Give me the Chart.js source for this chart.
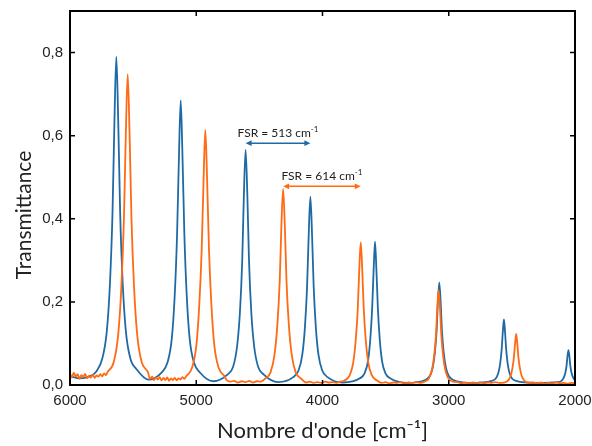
<!DOCTYPE html>
<html>
<head>
<meta charset="utf-8">
<script src="https://cdn.jsdelivr.net/npm/chart.js@4.4.0/dist/chart.umd.min.js"></script>
<style>
  body { margin: 0; background: #fff; }
  #wrap { width: 592px; height: 446px; }
</style>
</head>
<body>
<div id="wrap"><canvas id="spectre" width="592" height="446"></canvas></div>
<script>
// Spectre bleu (FSR 513 cm-1)
var blueX = [
  6000, 5920, 5850,
  5793, 5743, 5708, 5683, 5663, 5648, 5633, 5618, 5603, 5583, 5558, 5523, 5473,
  5378,
  5275, 5228, 5194, 5171, 5152, 5137, 5123, 5109, 5094, 5075, 5052, 5018, 4971,
  4866,
  4753, 4708, 4677, 4654, 4636, 4623, 4609, 4595, 4582, 4564, 4541, 4510, 4465,
  4352,
  4232, 4190, 4160, 4139, 4122, 4109, 4096, 4083, 4070, 4053, 4032, 4002, 3960,
  3840,
  3704, 3667, 3640, 3622, 3607, 3595, 3584, 3573, 3561, 3546, 3528, 3501, 3464,
  3330,
  3187, 3152, 3128, 3110, 3096, 3086, 3075, 3064, 3054, 3040, 3022, 2998, 2963,
  2820,
  2659, 2629, 2608, 2593, 2581, 2572, 2563, 2554, 2545, 2533, 2518, 2497, 2467,
  2308,
  2132, 2107, 2090, 2077, 2067, 2060, 2052, 2044, 2037, 2027, 2014, 2000
];
var blueY = [
  0.021, 0.016, 0.020,
  0.032, 0.065, 0.131, 0.248, 0.418, 0.635, 0.790, 0.635, 0.418, 0.248, 0.131, 0.065, 0.038,
  0.013,
  0.030, 0.054, 0.111, 0.213, 0.361, 0.550, 0.685, 0.550, 0.361, 0.213, 0.111, 0.054, 0.030,
  0.009,
  0.025, 0.044, 0.092, 0.175, 0.298, 0.454, 0.566, 0.454, 0.298, 0.175, 0.092, 0.044, 0.025,
  0.007,
  0.019, 0.035, 0.073, 0.140, 0.238, 0.364, 0.453, 0.364, 0.238, 0.140, 0.073, 0.035, 0.019,
  0.006,
  0.016, 0.028, 0.057, 0.108, 0.182, 0.277, 0.345, 0.277, 0.182, 0.108, 0.057, 0.028, 0.016,
  0.005,
  0.012, 0.021, 0.041, 0.078, 0.131, 0.199, 0.247, 0.199, 0.131, 0.078, 0.041, 0.021, 0.012,
  0.005,
  0.010, 0.015, 0.028, 0.051, 0.085, 0.127, 0.158, 0.127, 0.085, 0.051, 0.028, 0.015, 0.010,
  0.005,
  0.007, 0.010, 0.017, 0.029, 0.046, 0.068, 0.084, 0.068, 0.046, 0.029, 0.017, 0.011
];

// Spectre orange (FSR 614 cm-1)
var orangeX = [
  6000, 5985, 5970, 5955, 5940, 5925, 5910, 5895, 5880, 5865, 5850, 5835, 5820, 5805, 5790, 5775, 5760, 5745, 5730, 5715,
  5703, 5653, 5618, 5593, 5573, 5558, 5543, 5528, 5513, 5493, 5468, 5433, 5383,
  5365, 5350, 5335, 5320, 5305, 5290, 5275, 5260, 5245, 5230, 5215, 5200, 5185, 5170, 5155, 5140, 5125, 5110, 5095,
  5080, 5033, 4999, 4976, 4957, 4942, 4928, 4914, 4899, 4880, 4857, 4823, 4776,
  4760, 4730, 4700, 4670, 4640, 4610, 4580, 4550, 4520, 4490,
  4456, 4411, 4380, 4357, 4339, 4326, 4312, 4298, 4285, 4267, 4244, 4213, 4168,
  4130, 4100, 4070, 4040, 4010, 3980, 3950, 3920, 3890, 3860,
  3825, 3785, 3757, 3737, 3721, 3709, 3697, 3685, 3673, 3657, 3637, 3609, 3569,
  3530, 3500, 3470, 3440, 3410, 3380, 3350, 3320, 3290, 3260, 3230,
  3192, 3157, 3133, 3115, 3101, 3091, 3080, 3069, 3059, 3045, 3027, 3003, 2968,
  2930, 2900, 2870, 2840, 2810, 2780, 2750, 2720, 2690, 2660, 2630, 2600,
  2562, 2532, 2511, 2496, 2484, 2475, 2466, 2457, 2448, 2436, 2421, 2400, 2370,
  2330, 2300, 2270, 2240, 2210, 2180, 2150, 2120, 2090, 2060, 2030, 2000
];
var orangeY = [
  0.028, 0.018, 0.030, 0.020, 0.026, 0.015, 0.024, 0.019, 0.027, 0.016, 0.022, 0.018, 0.025, 0.017, 0.023, 0.020, 0.026, 0.021, 0.028, 0.024,
  0.031, 0.056, 0.122, 0.238, 0.399, 0.602, 0.748, 0.602, 0.399, 0.238, 0.122, 0.056, 0.031,
  0.014, 0.020, 0.012, 0.018, 0.013, 0.019, 0.011, 0.017, 0.012, 0.018, 0.010, 0.016, 0.012, 0.017, 0.011, 0.016, 0.013, 0.019, 0.015,
  0.021, 0.042, 0.096, 0.193, 0.325, 0.494, 0.614, 0.494, 0.325, 0.193, 0.096, 0.042, 0.021,
  0.012, 0.008, 0.010, 0.006, 0.009, 0.007, 0.010, 0.006, 0.009, 0.008,
  0.015, 0.031, 0.073, 0.147, 0.249, 0.379, 0.472, 0.379, 0.249, 0.147, 0.073, 0.031, 0.015,
  0.006, 0.008, 0.005, 0.007, 0.005, 0.008, 0.006, 0.007, 0.005, 0.008,
  0.011, 0.023, 0.053, 0.107, 0.181, 0.276, 0.343, 0.276, 0.181, 0.107, 0.053, 0.023, 0.011,
  0.005, 0.007, 0.004, 0.006, 0.005, 0.007, 0.004, 0.006, 0.005, 0.007, 0.005,
  0.008, 0.016, 0.036, 0.072, 0.121, 0.184, 0.229, 0.184, 0.121, 0.072, 0.036, 0.016, 0.008,
  0.007, 0.004, 0.006, 0.004, 0.006, 0.005, 0.007, 0.004, 0.006, 0.005, 0.007, 0.005,
  0.006, 0.010, 0.021, 0.040, 0.066, 0.099, 0.123, 0.099, 0.066, 0.040, 0.021, 0.010, 0.006,
  0.006, 0.004, 0.006, 0.003, 0.005, 0.004, 0.006, 0.004, 0.005, 0.003, 0.005, 0.004
];

// Axes
var xTicks = [6000, 5000, 4000, 3000, 2000];
var yTicks = [0, 0.2, 0.4, 0.6, 0.8];

// Annotations FSR
var fsrLabels = ['FSR = 513 cm', 'FSR = 614 cm'];
var fsrFrom = [4609, 4312];
var fsrTo = [4096, 3697];
var fsrLevel = [0.582, 0.478];
var fsrColors = ['#1f6aa5', '#ff6a13'];

function points(xs, ys) {
    var out = [];
    for (var i = 0; i < Math.min(xs.length, ys.length); i++) {
        out.push({x: xs[i], y: ys[i]});
    }
    return out;
}

function arrowHead(ctx, x, y, dir) {
    ctx.beginPath();
    ctx.moveTo(x, y);
    ctx.lineTo(x - dir * 6, y - 2.8);
    ctx.lineTo(x - dir * 6, y + 2.8);
    ctx.closePath();
    ctx.fill();
}

var cadre = {
    id: 'cadre',
    afterDatasetsDraw: function (chart) {
        var ctx = chart.ctx, a = chart.chartArea;
        var sx = chart.scales.x, sy = chart.scales.y;
        ctx.save();

        // cadre et graduations vers l'intérieur
        ctx.strokeStyle = '#000';
        ctx.lineWidth = 2;
        ctx.strokeRect(a.left, a.top, a.right - a.left, a.bottom - a.top);
        ctx.lineWidth = 1.5;
        ctx.beginPath();
        xTicks.forEach(function (v) {
            var px = sx.getPixelForValue(v);
            ctx.moveTo(px, a.bottom); ctx.lineTo(px, a.bottom - 5);
            ctx.moveTo(px, a.top); ctx.lineTo(px, a.top + 5);
        });
        yTicks.forEach(function (v) {
            var py = sy.getPixelForValue(v);
            ctx.moveTo(a.left, py); ctx.lineTo(a.left + 5, py);
            ctx.moveTo(a.right, py); ctx.lineTo(a.right - 5, py);
        });
        ctx.stroke();

        // flèches FSR
        for (var i = 0; i < fsrLabels.length; i++) {
            var x1 = sx.getPixelForValue(fsrFrom[i]);
            var x2 = sx.getPixelForValue(fsrTo[i]);
            var py = sy.getPixelForValue(fsrLevel[i]);
            ctx.strokeStyle = fsrColors[i];
            ctx.fillStyle = fsrColors[i];
            ctx.lineWidth = 1.5;
            ctx.beginPath();
            ctx.moveTo(x1 + 3, py);
            ctx.lineTo(x2 - 3, py);
            ctx.stroke();
            arrowHead(ctx, x1, py, -1);
            arrowHead(ctx, x2, py, 1);

            ctx.fillStyle = '#222';
            ctx.font = '12px Lato';
            var w1 = ctx.measureText(fsrLabels[i]).width;
            ctx.font = '8px Lato';
            var w2 = ctx.measureText('-1').width;
            var start = (x1 + x2) / 2 - (w1 + w2) / 2;
            ctx.textAlign = 'left';
            ctx.textBaseline = 'alphabetic';
            ctx.font = '12px Lato';
            ctx.fillText(fsrLabels[i], start, py - 6.5);
            ctx.font = '8px Lato';
            ctx.fillText('-1', start + w1, py - 11);
        }

        // titre de l'axe vertical
        ctx.fillStyle = '#222';
        ctx.font = '21px Lato';
        ctx.textAlign = 'center';
        ctx.textBaseline = 'middle';
        ctx.translate(24, 215);
        ctx.rotate(-Math.PI / 2);
        ctx.fillText('Transmittance', 0, 0);
        ctx.restore();
    }
};

var spectre = new Chart(document.getElementById('spectre'), {
    type: 'line',
    data: {
        datasets: [
            {
                label: 'FSR 614',
                data: points(orangeX, orangeY),
                borderColor: '#ff6a13',
                borderWidth: 1.8,
                pointRadius: 0,
                fill: false,
                cubicInterpolationMode: 'monotone'
            },
            {
                label: 'FSR 513',
                data: points(blueX, blueY),
                borderColor: '#1f6aa5',
                borderWidth: 1.8,
                pointRadius: 0,
                fill: false,
                cubicInterpolationMode: 'monotone'
            }
        ]
    },
    options: {
        responsive: false,
        animation: false,
        layout: { padding: { top: 11, right: 17, left: 0, bottom: 0 } },
        plugins: {
            legend: { display: false },
            tooltip: { enabled: false }
        },
        scales: {
            x: {
                type: 'linear',
                reverse: true,
                min: 2000,
                max: 6000,
                grid: { display: false, drawTicks: false },
                border: { display: false },
                afterFit: function (scale) {
                    scale.height = 61;
                    scale.paddingLeft = 0;
                    scale.paddingRight = 0;
                },
                afterBuildTicks: function (scale) {
                    scale.ticks = xTicks.map(function (v) { return {value: v}; });
                },
                ticks: {
                    padding: 7,
                    maxRotation: 0,
                    color: '#222',
                    font: { family: 'Liberation Sans', size: 15 },
                    callback: function (v) { return String(v); }
                },
                title: {
                    display: true,
                    text: 'Nombre d\'onde [cm\u207B\u00B9]',
                    color: '#222',
                    font: { family: 'Lato', size: 22 },
                    padding: { top: 0, bottom: 2 }
                }
            },
            y: {
                min: 0,
                max: 0.9,
                grid: { display: false, drawTicks: false },
                border: { display: false },
                afterFit: function (scale) {
                    scale.width = 70;
                    scale.paddingTop = 0;
                    scale.paddingBottom = 0;
                },
                afterBuildTicks: function (scale) {
                    scale.ticks = yTicks.map(function (v) { return {value: v}; });
                },
                ticks: {
                    padding: 7,
                    color: '#222',
                    font: { family: 'Liberation Sans', size: 15 },
                    callback: function (v) { return v.toFixed(1).replace('.', ','); }
                }
            }
        }
    },
    plugins: [cadre]
});
</script>
</body>
</html>
